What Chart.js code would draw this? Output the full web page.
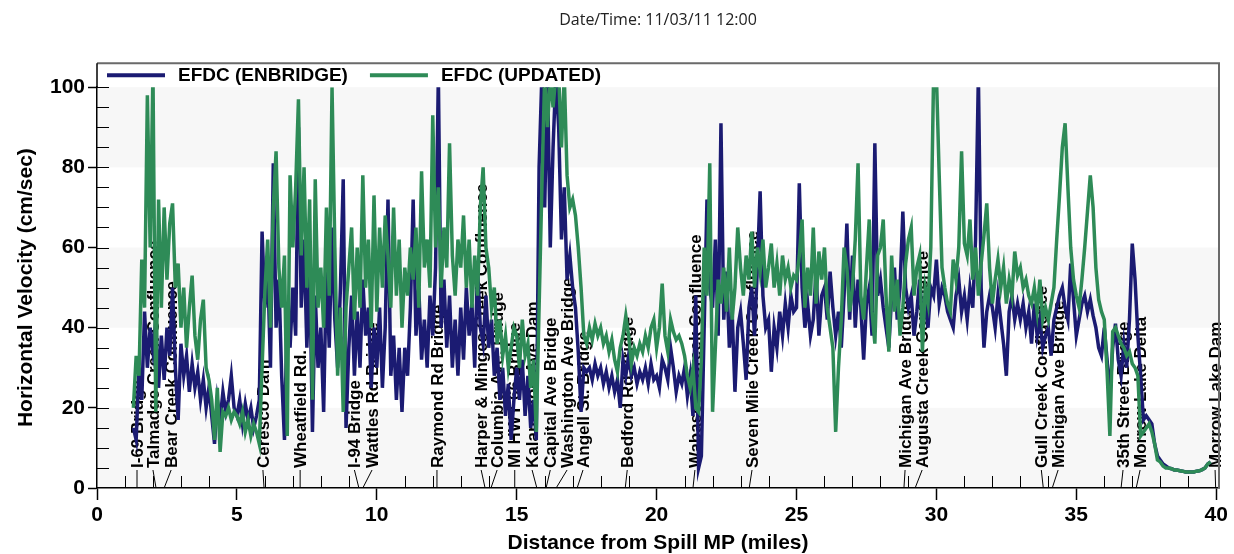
<!DOCTYPE html>
<html>
<head>
<meta charset="utf-8">
<script src="https://cdn.jsdelivr.net/npm/chart.js@4.4.1/dist/chart.umd.min.js"></script>
<style>
  html, body { margin: 0; padding: 0; background: #fff; }
  canvas { display: block; }
</style>
</head>
<body>
<canvas id="velocity" width="1234" height="554"></canvas>
<script>
// velocity profile, sampled every 0.1 mile starting at mile 1.3
const firstMile = 1.3;
const mileStep = 0.1;

const enbridge = [
  15, 12, 30, 22, 44, 30, 40,
  34, 42, 25, 38, 27, 40, 33, 50, 30, 17,
  36, 28, 33, 24, 31, 25, 29, 22, 27, 20,
  25, 18, 11, 22, 17, 24, 19, 22, 28, 20,
  18, 22, 16, 21, 17, 20, 15, 18, 22, 64,
  45, 55, 30, 81, 40, 52, 28, 12, 45, 35,
  50, 38, 90, 45, 62, 35, 55, 14, 48, 30,
  40, 19, 55, 35, 65, 42, 30, 50, 77, 15,
  35, 48, 28, 44, 30, 52, 38, 45, 25, 40,
  30, 45, 25, 40, 72, 28, 38, 22, 35, 19,
  35, 28, 45, 72, 38, 50, 32, 42, 30, 48,
  38, 55, 103, 40, 52, 35, 48, 30, 42, 28,
  45, 32, 50, 38, 46, 30, 55, 40, 36, 48,
  35, 42, 28, 35, 22, 30, 18, 26, 12, 22,
  30, 22, 32, 18, 28, 15, 22, 12, 80, 103,
  70, 103, 60, 85, 103, 90, 62, 75, 52, 58,
  50, 45, 34, 19, 30, 29, 30, 27, 31, 28,
  30, 26, 29, 25, 28, 24, 27, 20, 32, 28,
  33, 28, 30, 26, 29, 27, 30, 26, 31, 27,
  28, 25, 32, 30, 27, 35, 30, 24, 28, 26,
  30, 23, 28, 18, 48, 5, 8, 40, 72, 50,
  45, 62, 38, 91, 42, 54, 35, 44, 24, 40,
  44, 36, 27, 45, 50, 38, 55, 74, 48, 40,
  42, 29, 40, 35, 44, 38, 46, 40, 48, 44,
  45, 76, 50, 40, 46, 38, 42, 54, 38, 48,
  50, 42, 54, 45, 38, 44, 35, 48, 66, 42,
  58, 40, 52, 45, 32, 46, 50, 38, 86, 48,
  52, 45, 40, 35, 48, 55, 42, 50, 69, 50,
  45, 48, 38, 44, 52, 42, 46, 40, 50, 48,
  57, 46, 50, 48, 44, 42, 40, 48, 52, 44,
  48, 42, 50, 45, 62, 103, 50, 35, 44, 48,
  45, 40, 48, 42, 36, 28, 44, 48, 42, 46,
  42, 46, 40, 44, 36, 46, 38, 42, 35, 38,
  40, 33, 42, 45, 48, 50, 45, 42, 56, 47,
  38, 42, 46, 48, 44, 47, 43, 40, 35, 33,
  40, 32, 23, 35, 41, 32, 28, 36, 30, 42,
  61, 52, 38, 28, 17, 18, 17, 16, 11, 8,
  7, 6, 5.5, 5, 4.8, 4.5, 4.5, 4.3, 4.2, 4,
  4, 4, 4, 4.2, 4.3, 4.6, 5, 6, 6.5
];

const updated = [
  20, 33, 28, 57, 45, 98, 60,
  104, 19, 72, 45, 70, 52, 66, 71, 50, 56,
  40, 50, 35, 45, 53, 38, 32, 42, 47, 30,
  27, 22, 12, 25, 9, 19, 18, 20, 17, 19,
  18, 16, 19, 14, 17, 13, 16, 14, 11, 30,
  49, 62, 40, 70, 84, 55, 45, 58, 13, 78,
  60, 75, 97, 58, 80, 50, 72, 22, 77, 45,
  55, 40, 70, 48, 100, 60, 28, 45, 19, 45,
  55, 65, 42, 60, 45, 78, 50, 62, 40, 73,
  44, 65, 50, 68, 58, 45, 70, 48, 62, 40,
  55, 48, 60, 52, 65, 45, 79, 55, 62, 50,
  93, 60, 75, 50, 65, 55, 86, 58, 48, 62,
  55, 68, 50, 62, 45, 58, 48, 70, 80, 60,
  55, 45, 50, 36, 42, 33, 38, 30, 35, 40,
  38, 30, 42, 33, 36, 25, 32, 14, 45, 75,
  103, 90, 103, 95, 103, 103, 85, 103, 78, 70,
  72, 68, 60, 50, 38, 36, 40, 37, 41, 38,
  40, 36, 38, 34, 37, 32, 29, 35, 38, 43,
  38, 31, 35, 33, 36, 34, 38, 35, 40, 42,
  35, 40, 51, 38, 34, 42, 39, 37, 38, 36,
  33, 28, 25, 30, 20, 19, 32, 60, 48, 81,
  19, 35, 52, 46, 55, 44, 60, 42, 50, 65,
  55, 48, 58, 52, 64, 50, 60, 54, 62, 50,
  55, 61, 50, 56, 48, 58, 52, 55, 50, 53,
  52, 58, 67, 45, 55, 48, 65, 46, 59, 52,
  60, 45, 40, 35, 14, 30, 42, 60, 55, 44,
  50, 62, 81, 48, 42, 55, 67, 44, 36, 58,
  60, 67, 48, 34, 58, 44, 52, 38, 45, 56,
  62, 65, 48, 55, 58, 34, 50, 46, 60, 103,
  103, 78, 55, 50, 46, 44, 57, 52, 60, 84,
  61, 58, 67, 52, 60, 48, 56, 63, 71, 55,
  46, 52, 57, 50, 55, 46, 52, 48, 59, 53,
  55, 50, 52, 48, 46, 50, 44, 52, 42, 45,
  42, 46, 50, 62, 73, 85, 91, 75, 60, 52,
  48, 45, 52, 60, 69, 78, 70, 55, 47, 44,
  42, 29, 13, 39, 40, 38, 36, 35, 33, 34,
  31, 30, 28, 13, 14, 15, 16, 14, 11, 7,
  6.5, 5.5, 5, 5, 4.8, 4.5, 4.5, 4.3, 4.2, 4,
  4, 4, 4, 4.2, 4.3, 4.6, 5, 6, 6.5
];

// river landmarks: where they sit on the river and where their label is written
const landmarkNames = [
  'I-69 Bridge', 'Talmadge Creek Confluence', 'Bear Creek Confluence', 'Ceresco Dam',
  'Wheatfield Rd.', 'I-94 Bridge', 'Wattles Rd Bridge', 'Raymond Rd Bridge',
  'Harper & Minges Creek Confluence', 'Columbia Ave. Bridge', 'MI HWY 66 Bridge',
  'Kalamazoo Ave Dam', 'Capital Ave Bridge', 'Washington Ave Bridge', 'Angell St. Bridge',
  'Bedford Rd Bridge', 'Wabascon Creek Confluence', 'Seven Mile Creek Confluence',
  'Michigan Ave Bridge', 'Augusta Creek Confluence', 'Gull Creek Confluence',
  'Michigan Ave Bridge', '35th Street Bridge', 'Morrow Lake Delta', 'Morrow Lake Dam'
];
const landmarkMiles = [
  1.43, 2.11, 2.4, 5.97, 7.26, 9.36, 9.5, 12.15, 13.87, 14.08, 14.93, 15.72, 16.05,
  16.41, 17.16, 18.88, 21.3, 23.31, 28.84, 29.24, 33.82, 34.14, 36.6, 37.14, 39.98
];
const labelMiles = [
  1.43, 2.0, 2.65, 5.93, 7.26, 9.2, 9.83, 12.15, 13.73, 14.3, 14.93, 15.55, 16.2,
  16.8, 17.37, 18.95, 21.37, 23.41, 28.88, 29.49, 33.75, 34.35, 36.67, 37.28, 39.96
];

const seriesNames = ['EFDC (ENBRIDGE)', 'EFDC (UPDATED)'];
const seriesColors = ['#1b1b72', '#2e8b57'];

const FONT = '"Liberation Sans", Arial, sans-serif';
const miles = enbridge.map((_, i) => +(firstMile + i * mileStep).toFixed(1));
const toPoints = vals => vals.map((v, i) => ({ x: miles[i], y: v }));

const riverDecor = {
  id: 'riverDecor',
  beforeDraw(chart) {
    const { ctx, chartArea: a, scales: { y } } = chart;
    ctx.save();
    ctx.fillStyle = '#f7f7f7';
    [[0, 20], [40, 60], [80, 100]].forEach(([lo, hi]) => {
      const top = y.getPixelForValue(hi);
      ctx.fillRect(a.left, top, a.right - a.left, y.getPixelForValue(lo) - top);
    });
    ctx.restore();
  },
  beforeDatasetsDraw(chart) {
    const { ctx, chartArea: a, scales: { x, y } } = chart;
    ctx.save();
    ctx.strokeStyle = '#000';
    ctx.lineWidth = 1;
    // inner minor ticks
    ctx.beginPath();
    for (let m = 1; m < 40; m++) {
      if (m % 5 === 0) continue;
      const px = Math.round(x.getPixelForValue(m)) + 0.5;
      ctx.moveTo(px, a.bottom); ctx.lineTo(px, a.bottom - 12);
    }
    for (let v = 5; v <= 100; v += 5) {
      const py = Math.round(y.getPixelForValue(v)) + 0.5;
      ctx.moveTo(a.left, py); ctx.lineTo(a.left + 12, py);
    }
    ctx.stroke();

    // landmark leaders and vertical names
    ctx.fillStyle = '#000';
    ctx.font = 'bold 17px ' + FONT;
    ctx.textAlign = 'left';
    ctx.textBaseline = 'middle';
    landmarkNames.forEach((name, i) => {
      const ax = x.getPixelForValue(landmarkMiles[i]);
      const lx = x.getPixelForValue(labelMiles[i]);
      ctx.beginPath();
      ctx.moveTo(lx, a.bottom - 18);
      ctx.lineTo(ax, a.bottom);
      ctx.stroke();
      ctx.save();
      ctx.translate(lx + 1, a.bottom - 20);
      ctx.rotate(-Math.PI / 2);
      ctx.fillText(name, 0, 0);
      ctx.restore();
    });
    ctx.restore();
  },
  afterDraw(chart) {
    const { ctx, chartArea: a } = chart;
    const frameTop = a.top - 24;
    ctx.save();
    // box around plot and legend strip
    ctx.strokeStyle = '#6a6a6a';
    ctx.lineWidth = 2;
    ctx.beginPath();
    ctx.moveTo(a.left, frameTop);
    ctx.lineTo(a.right, frameTop);
    ctx.lineTo(a.right, a.bottom);
    ctx.stroke();
    ctx.strokeStyle = '#000';
    ctx.lineWidth = 1.5;
    ctx.beginPath();
    ctx.moveTo(a.left, frameTop);
    ctx.lineTo(a.left, a.top);
    ctx.stroke();

    // legend
    ctx.font = 'bold 19px ' + FONT;
    ctx.textBaseline = 'middle';
    ctx.textAlign = 'left';
    const ly = frameTop + 12;
    let lx = a.left + 10;
    seriesNames.forEach((name, i) => {
      ctx.strokeStyle = seriesColors[i];
      ctx.lineWidth = 4;
      ctx.beginPath();
      ctx.moveTo(lx, ly);
      ctx.lineTo(lx + 58, ly);
      ctx.stroke();
      ctx.fillStyle = '#000';
      ctx.fillText(name, lx + 71, ly + 1);
      lx += 71 + ctx.measureText(name).width + 22;
    });
    ctx.restore();
  }
};

const tickFont = { family: FONT, size: 21, weight: 'bold' };

new Chart(document.getElementById('velocity'), {
  type: 'line',
  plugins: [riverDecor],
  data: {
    datasets: [
      {
        label: seriesNames[0],
        data: toPoints(enbridge),
        borderColor: seriesColors[0],
        borderWidth: 3.5,
        pointRadius: 0,
        tension: 0,
        order: 1
      },
      {
        label: seriesNames[1],
        data: toPoints(updated),
        borderColor: seriesColors[1],
        borderWidth: 3.5,
        pointRadius: 0,
        tension: 0,
        order: 0
      }
    ]
  },
  options: {
    responsive: false,
    animation: false,
    layout: { padding: { left: 0, right: 15, top: 0, bottom: 0 } },
    plugins: {
      legend: { display: false },
      tooltip: { enabled: false },
      title: {
        display: true,
        fullSize: false,
        text: 'Date/Time: 11/03/11 12:00',
        color: '#222',
        font: { family: '"Open Sans", "Noto Sans", sans-serif', size: 16, weight: 'normal', lineHeight: 1.2 },
        padding: { top: 11, bottom: 57 }
      }
    },
    scales: {
      x: {
        type: 'linear',
        min: 0,
        max: 40.1,
        ticks: { stepSize: 5, includeBounds: false, maxRotation: 0, padding: 3, color: '#000', font: tickFont },
        grid: { drawOnChartArea: false, tickLength: 12, tickColor: '#000', tickWidth: 1.5 },
        border: { color: '#000', width: 1.5 },
        title: {
          display: true,
          text: 'Distance from Spill MP (miles)',
          color: '#000',
          font: { family: FONT, size: 21, weight: 'bold', lineHeight: 1 },
          padding: 0
        },
        afterFit(scale) { scale.height = 66; }
      },
      y: {
        min: 0,
        max: 100,
        ticks: { stepSize: 20, padding: 3, color: '#000', font: tickFont },
        grid: { drawOnChartArea: false, tickLength: 9, tickColor: '#000', tickWidth: 1.5 },
        border: { color: '#000', width: 1.5 },
        title: {
          display: true,
          text: 'Horizontal Velocity (cm/sec)',
          color: '#000',
          font: { family: FONT, size: 21, weight: 'bold' },
          padding: { top: 14, bottom: 0 }
        },
        afterFit(scale) { scale.width = 97; }
      }
    }
  }
});
</script>
</body>
</html>
